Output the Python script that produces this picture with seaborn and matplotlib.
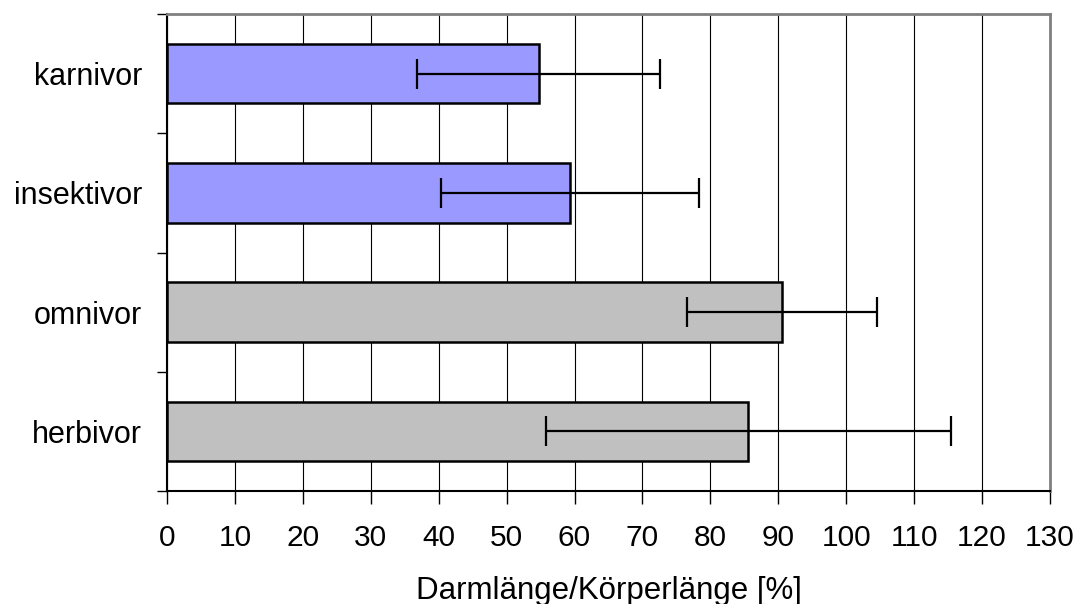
import matplotlib
matplotlib.use("Agg")
import matplotlib.pyplot as plt
import seaborn as sns
import numpy as np
import pandas as pd

categories = ["karnivor", "insektivor", "omnivor", "herbivor"]
means = [54.7, 59.3, 90.5, 85.6]
errors = [17.9, 19.0, 14.0, 29.8]
colors = ["#9999FF", "#9999FF", "#C0C0C0", "#C0C0C0"]
xticks = list(range(0, 131, 10))
xlabel = "Darmlänge/Körperlänge [%]"

sns.set_style("white")
plt.rcParams['font.family'] = ['Liberation Sans', 'DejaVu Sans']
plt.rcParams['text.color'] = 'black'
plt.rcParams['axes.labelcolor'] = 'black'
plt.rcParams['xtick.color'] = 'black'
plt.rcParams['ytick.color'] = 'black'

fig = plt.figure(figsize=(10.79, 6.04), dpi=100)
ax = fig.add_axes([167/1079, 1-491/604, (1050-167)/1079, (491-14)/604])

df = pd.DataFrame({"cat": categories, "val": means})
sns.barplot(data=df, x="val", y="cat", hue="cat", palette=colors, legend=False,
            saturation=1, width=0.5, edgecolor="black", linewidth=1.8, ax=ax, zorder=3)
ax.errorbar(means, np.arange(len(categories)), xerr=errors, fmt="none",
            ecolor="black", elinewidth=1.6, capsize=11, capthick=1.6, zorder=4)

ax.set_xlim(0, 130)
ax.set_ylim(len(categories) - 0.5, -0.5)
ax.set_xticks(xticks)
ax.set_xticklabels([str(t) for t in xticks], fontsize=21.5)
ax.set_yticks(np.arange(len(categories)))
ax.set_yticklabels(categories, fontsize=22)
ax.set_yticks(np.arange(-0.5, len(categories), 1.0), minor=True)
ax.tick_params(axis="y", which="major", length=0, pad=18)
ax.tick_params(axis="y", which="minor", length=7, width=1, left=True)
ax.tick_params(axis="x", which="major", length=9, width=1, pad=15, bottom=True)
ax.set_xlabel(xlabel, fontsize=22.5, labelpad=17)
ax.set_ylabel("")

ax.grid(axis="x", color="black", linewidth=0.8, zorder=0)
ax.grid(axis="y", visible=False)
ax.set_axisbelow(True)

for s in ["left", "bottom"]:
    ax.spines[s].set_color("black")
    ax.spines[s].set_linewidth(1.5)
for s in ["top", "right"]:
    ax.spines[s].set_color("#808080")
    ax.spines[s].set_linewidth(2)

fig.savefig("out.png", dpi=100)
